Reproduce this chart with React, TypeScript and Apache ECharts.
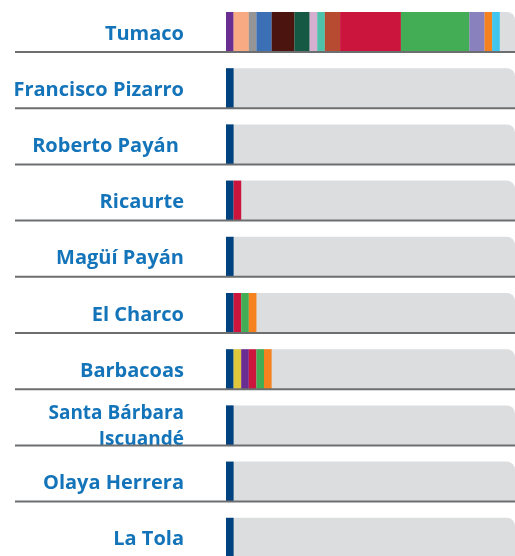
import React, { useEffect, useRef } from "react";
import * as echarts from "echarts";

const categories = [
  "Tumaco",
  "Francisco Pizarro",
  "Roberto Payán ",
  "Ricaurte",
  "Magüí Payán",
  "El Charco",
  "Barbacoas",
  "Santa Bárbara\nIscuandé",
  "Olaya Herrera",
  "La Tola",
];

const darkBlue = [0, 1, 1, 1, 1, 1, 1, 1, 1, 1];
const yellow = [0, 0, 0, 0, 0, 0, 1, 0, 0, 0];
const purple = [1, 0, 0, 0, 0, 0, 1, 0, 0, 0];
const peach = [2, 0, 0, 0, 0, 0, 0, 0, 0, 0];
const grey = [1, 0, 0, 0, 0, 0, 0, 0, 0, 0];
const blue = [2, 0, 0, 0, 0, 0, 0, 0, 0, 0];
const brown = [3, 0, 0, 0, 0, 0, 0, 0, 0, 0];
const darkGreen = [2, 0, 0, 0, 0, 0, 0, 0, 0, 0];
const pink = [1, 0, 0, 0, 0, 0, 0, 0, 0, 0];
const teal = [1, 0, 0, 0, 0, 0, 0, 0, 0, 0];
const brick = [2, 0, 0, 0, 0, 0, 0, 0, 0, 0];
const crimson = [8, 0, 0, 1, 0, 1, 1, 0, 0, 0];
const green = [9, 0, 0, 0, 0, 1, 1, 0, 0, 0];
const lavender = [2, 0, 0, 0, 0, 0, 0, 0, 0, 0];
const orange = [1, 0, 0, 0, 0, 1, 1, 0, 0, 0];
const cyan = [1, 0, 0, 0, 0, 0, 0, 0, 0, 0];

const axisMax = 38;

const segments: [string, number[], string][] = [
  ["darkBlue", darkBlue, "#00427f"],
  ["yellow", yellow, "#e1c73b"],
  ["purple", purple, "#6a2d91"],
  ["peach", peach, "#f8aa83"],
  ["grey", grey, "#959595"],
  ["blue", blue, "#3b70b6"],
  ["brown", brown, "#4b140f"],
  ["darkGreen", darkGreen, "#155843"],
  ["pink", pink, "#d4afd0"],
  ["teal", teal, "#4dc1aa"],
  ["brick", brick, "#b74b31"],
  ["crimson", crimson, "#cc153d"],
  ["green", green, "#42ad54"],
  ["lavender", lavender, "#8881be"],
  ["orange", orange, "#f5821f"],
  ["cyan", cyan, "#40c5ee"],
];

export default function App() {
  const ref = useRef<HTMLDivElement>(null);
  useEffect(() => {
    if (!ref.current) return;
    const chart = echarts.init(ref.current, null, { renderer: "svg" });
    const barSeries = segments.map(([name, data, color], i) => ({
      name,
      type: "bar",
      stack: "total",
      barWidth: 40,
      data,
      itemStyle: { color },
      showBackground: i === 0,
      backgroundStyle: { color: "#dcdddf", borderRadius: [0, 8, 0, 0] },
      z: 2,
    }));
    chart.setOption({
      animation: false,
      grid: { left: 226, right: 0, top: 3.9, height: 562, containLabel: false },
      xAxis: {
        type: "value",
        min: 0,
        max: axisMax,
        show: false,
      },
      yAxis: {
        type: "category",
        data: categories.map((c) =>
          c.includes("\n")
            ? {
                value: c,
                textStyle: { lineHeight: 26, fontSize: 19, padding: [0, 0, 12, 0] },
              }
            : c
        ),
        inverse: true,
        axisLine: { show: false },
        axisTick: { show: false },
        splitLine: { show: false },
        axisLabel: {
          margin: 42,
          color: "#1474b9",
          fontFamily: "Open Sans",
          fontWeight: "bold",
          fontSize: 20,
          lineHeight: 20,
          align: "right",
        },
      },
      series: [
        ...barSeries,
        {
          type: "custom",
          z: 5,
          silent: true,
          data: categories.map((_, i) => [0, i]),
          renderItem: (params: any, api: any) => {
            const p = api.coord([0, api.value(1)]);
            const cs = params.coordSys;
            const y = p[1] + 20;
            return {
              type: "line",
              shape: { x1: cs.x - 211, y1: y, x2: cs.x + cs.width, y2: y },
              style: { stroke: "#6d6e70", lineWidth: 2 },
            };
          },
        },
      ],
    });
    return () => chart.dispose();
  }, []);
  return (
    <div
      ref={ref}
      style={{ position: "fixed", left: 0, top: 0, width: 515, height: 570 }}
    />
  );
}
